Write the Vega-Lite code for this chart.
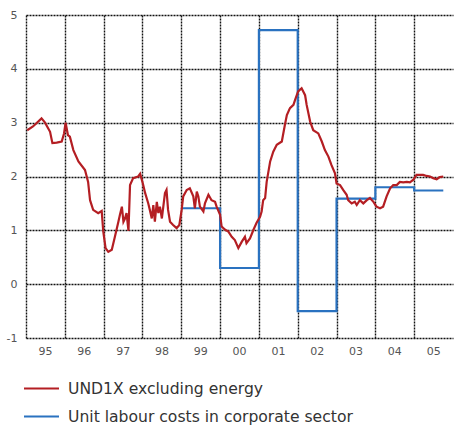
{
  "$schema": "https://vega.github.io/schema/vega-lite/v6.json",
  "width": 427,
  "height": 323,
  "autosize": {"type": "none"},
  "padding": {"left": 26, "top": 15, "right": 2, "bottom": 92},
  "background": "white",
  "config": {
    "view": {"stroke": null},
    "font": "DejaVu Sans"
  },
  "datasets": {
    "und1x": [
      {"t": 1995.03, "v": 2.86}, {"t": 1995.18, "v": 2.93}, {"t": 1995.40, "v": 3.08}, {"t": 1995.49, "v": 3.00},
      {"t": 1995.62, "v": 2.83}, {"t": 1995.68, "v": 2.62}, {"t": 1995.79, "v": 2.63}, {"t": 1995.92, "v": 2.65},
      {"t": 1995.98, "v": 2.80}, {"t": 1996.02, "v": 3.00}, {"t": 1996.08, "v": 2.77}, {"t": 1996.13, "v": 2.74},
      {"t": 1996.22, "v": 2.49}, {"t": 1996.35, "v": 2.28}, {"t": 1996.52, "v": 2.12}, {"t": 1996.60, "v": 1.90},
      {"t": 1996.65, "v": 1.56}, {"t": 1996.73, "v": 1.38}, {"t": 1996.86, "v": 1.32}, {"t": 1996.95, "v": 1.36},
      {"t": 1996.99, "v": 0.98}, {"t": 1997.05, "v": 0.67}, {"t": 1997.12, "v": 0.60}, {"t": 1997.21, "v": 0.64},
      {"t": 1997.29, "v": 0.88}, {"t": 1997.38, "v": 1.16}, {"t": 1997.42, "v": 1.29}, {"t": 1997.47, "v": 1.44},
      {"t": 1997.51, "v": 1.16}, {"t": 1997.55, "v": 1.22}, {"t": 1997.59, "v": 1.32}, {"t": 1997.64, "v": 0.99},
      {"t": 1997.68, "v": 1.84}, {"t": 1997.76, "v": 1.97}, {"t": 1997.89, "v": 2.00}, {"t": 1997.94, "v": 2.05},
      {"t": 1998.01, "v": 1.87}, {"t": 1998.07, "v": 1.69}, {"t": 1998.15, "v": 1.50}, {"t": 1998.19, "v": 1.38},
      {"t": 1998.24, "v": 1.22}, {"t": 1998.28, "v": 1.47}, {"t": 1998.32, "v": 1.16}, {"t": 1998.37, "v": 1.53},
      {"t": 1998.41, "v": 1.32}, {"t": 1998.45, "v": 1.44}, {"t": 1998.50, "v": 1.22}, {"t": 1998.58, "v": 1.69},
      {"t": 1998.62, "v": 1.75}, {"t": 1998.66, "v": 1.38}, {"t": 1998.71, "v": 1.16}, {"t": 1998.79, "v": 1.10},
      {"t": 1998.88, "v": 1.04}, {"t": 1998.95, "v": 1.10}, {"t": 1999.01, "v": 1.38}, {"t": 1999.05, "v": 1.63},
      {"t": 1999.14, "v": 1.75}, {"t": 1999.22, "v": 1.78}, {"t": 1999.31, "v": 1.63}, {"t": 1999.35, "v": 1.41},
      {"t": 1999.40, "v": 1.72}, {"t": 1999.44, "v": 1.63}, {"t": 1999.48, "v": 1.44}, {"t": 1999.57, "v": 1.35},
      {"t": 1999.61, "v": 1.50}, {"t": 1999.70, "v": 1.66}, {"t": 1999.78, "v": 1.56}, {"t": 1999.87, "v": 1.53},
      {"t": 1999.91, "v": 1.44}, {"t": 2000.00, "v": 1.29}, {"t": 2000.04, "v": 1.07}, {"t": 2000.13, "v": 1.01},
      {"t": 2000.21, "v": 0.98}, {"t": 2000.30, "v": 0.88}, {"t": 2000.38, "v": 0.82}, {"t": 2000.47, "v": 0.67},
      {"t": 2000.56, "v": 0.79}, {"t": 2000.64, "v": 0.88}, {"t": 2000.68, "v": 0.76}, {"t": 2000.77, "v": 0.85},
      {"t": 2000.86, "v": 1.01}, {"t": 2000.94, "v": 1.14}, {"t": 2001.03, "v": 1.25}, {"t": 2001.07, "v": 1.35},
      {"t": 2001.11, "v": 1.56}, {"t": 2001.16, "v": 1.60}, {"t": 2001.20, "v": 1.90}, {"t": 2001.29, "v": 2.28},
      {"t": 2001.37, "v": 2.46}, {"t": 2001.46, "v": 2.59}, {"t": 2001.59, "v": 2.65}, {"t": 2001.67, "v": 2.96},
      {"t": 2001.72, "v": 3.14}, {"t": 2001.80, "v": 3.27}, {"t": 2001.89, "v": 3.33}, {"t": 2001.93, "v": 3.42},
      {"t": 2002.01, "v": 3.58}, {"t": 2002.10, "v": 3.64}, {"t": 2002.19, "v": 3.51}, {"t": 2002.23, "v": 3.33},
      {"t": 2002.32, "v": 3.02}, {"t": 2002.40, "v": 2.86}, {"t": 2002.53, "v": 2.80}, {"t": 2002.62, "v": 2.65},
      {"t": 2002.70, "v": 2.49}, {"t": 2002.79, "v": 2.37}, {"t": 2002.87, "v": 2.21}, {"t": 2002.96, "v": 2.06},
      {"t": 2003.00, "v": 1.87}, {"t": 2003.09, "v": 1.84}, {"t": 2003.17, "v": 1.75}, {"t": 2003.26, "v": 1.66},
      {"t": 2003.30, "v": 1.56}, {"t": 2003.39, "v": 1.50}, {"t": 2003.47, "v": 1.53}, {"t": 2003.52, "v": 1.47},
      {"t": 2003.60, "v": 1.56}, {"t": 2003.69, "v": 1.50}, {"t": 2003.78, "v": 1.56}, {"t": 2003.86, "v": 1.60},
      {"t": 2003.95, "v": 1.53}, {"t": 2004.03, "v": 1.44}, {"t": 2004.12, "v": 1.41}, {"t": 2004.20, "v": 1.44},
      {"t": 2004.29, "v": 1.63}, {"t": 2004.38, "v": 1.78}, {"t": 2004.46, "v": 1.84}, {"t": 2004.55, "v": 1.84},
      {"t": 2004.63, "v": 1.90}, {"t": 2004.72, "v": 1.89}, {"t": 2004.81, "v": 1.90}, {"t": 2004.89, "v": 1.89},
      {"t": 2004.98, "v": 1.94}, {"t": 2005.06, "v": 2.03}, {"t": 2005.15, "v": 2.03}, {"t": 2005.23, "v": 2.03},
      {"t": 2005.32, "v": 2.01}, {"t": 2005.41, "v": 2.00}, {"t": 2005.49, "v": 1.97}, {"t": 2005.58, "v": 1.95},
      {"t": 2005.66, "v": 1.99}, {"t": 2005.75, "v": 2.00}
    ],
    "ulc": [
      {"t": 1999.0, "v": 1.41}, {"t": 2000.0, "v": 0.30}, {"t": 2001.0, "v": 4.72}, {"t": 2002.0, "v": -0.50},
      {"t": 2003.0, "v": 1.59}, {"t": 2004.0, "v": 1.80}, {"t": 2005.0, "v": 1.74}, {"t": 2005.75, "v": 1.74}
    ]
  },
  "layer": [
    {
      "data": {"name": "ulc"},
      "transform": [{"calculate": "'Unit labour costs in corporate sector'", "as": "series"}],
      "mark": {"type": "line", "interpolate": "step-after", "strokeWidth": 2.2},
      "encoding": {
        "x": {"field": "t", "type": "quantitative"},
        "y": {"field": "v", "type": "quantitative"},
        "color": {"field": "series", "type": "nominal"}
      }
    },
    {
      "data": {"name": "und1x"},
      "transform": [{"calculate": "'UND1X excluding energy'", "as": "series"}],
      "mark": {"type": "line", "strokeWidth": 2.2},
      "encoding": {
        "x": {
          "field": "t", "type": "quantitative",
          "scale": {"domain": [1995, 2006], "nice": false, "zero": false},
          "axis": {
            "title": null,
            "values": [1995, 1996, 1997, 1998, 1999, 2000, 2001, 2002, 2003, 2004, 2005],
            "labelExpr": "substring(toString(datum.value), 2)",
            "labelOffset": 19,
            "labelPadding": 7,
            "labelFontSize": 11,
            "labelColor": "#555555",
            "labelOverlap": false,
            "labelBound": false,
            "labelFlush": false,
            "ticks": false,
            "domain": false,
            "grid": true,
            "gridColor": "#111111",
            "gridDash": [2, 1],
            "gridWidth": 1.4,
            "gridOpacity": 1
          }
        },
        "y": {
          "field": "v", "type": "quantitative",
          "scale": {"domain": [-1, 5], "nice": false, "zero": false},
          "axis": {
            "title": null,
            "values": [-1, 0, 1, 2, 3, 4, 5],
            "labelExpr": "toString(datum.value)",
            "labelPadding": 9,
            "labelFontSize": 11,
            "labelColor": "#555555",
            "labelOverlap": false,
            "labelBound": false,
            "labelFlush": false,
            "ticks": false,
            "domain": false,
            "grid": true,
            "gridColor": "#111111",
            "gridDash": [2, 1],
            "gridWidth": 1.4,
            "gridOpacity": 1
          }
        },
        "color": {
          "field": "series", "type": "nominal",
          "scale": {
            "domain": ["UND1X excluding energy", "Unit labour costs in corporate sector"],
            "range": ["#b41e23", "#2a72c0"]
          },
          "legend": {
            "title": null,
            "orient": "none",
            "legendX": -3,
            "legendY": 355,
            "direction": "vertical",
            "symbolType": "stroke",
            "symbolSize": 1225,
            "symbolStrokeWidth": 2,
            "labelFontSize": 15.6,
            "labelColor": "#333333",
            "labelOffset": 8,
            "rowPadding": -2,
            "labelLimit": 400
          }
        }
      }
    }
  ]
}
